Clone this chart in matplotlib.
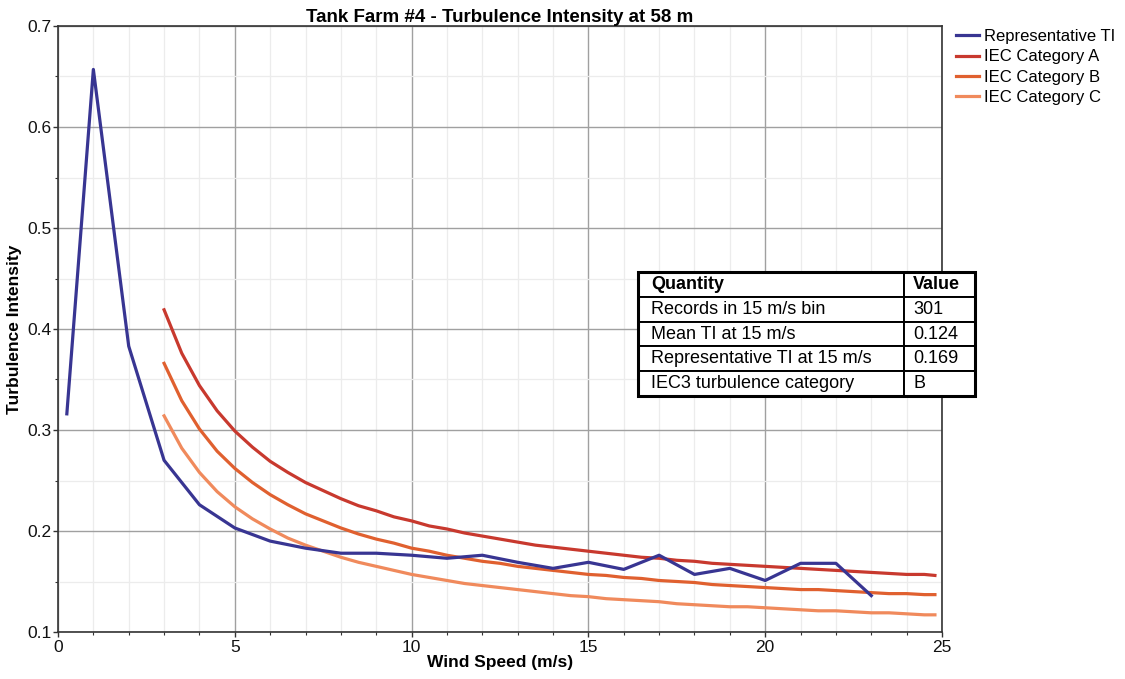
import matplotlib
matplotlib.use("Agg")
import matplotlib.pyplot as plt
from matplotlib.ticker import MultipleLocator
from matplotlib.patches import Rectangle

plt.rcParams['font.family'] = ['Liberation Sans', 'DejaVu Sans']

# ---- data ----
rep_ws = [0.25, 1, 2, 3, 4, 5, 6, 7, 8, 9, 10, 11, 12, 13, 14, 15, 16, 17, 18, 19, 20, 21, 22, 23]
rep_ti = [0.316, 0.657, 0.383, 0.270, 0.226, 0.203, 0.190, 0.183, 0.178, 0.178, 0.176, 0.173,
          0.176, 0.169, 0.163, 0.169, 0.162, 0.176, 0.157, 0.163, 0.151, 0.168, 0.168, 0.136]

iec_ws = [3.0, 3.5, 4.0, 4.5, 5.0, 5.5, 6.0, 6.5, 7.0, 7.5, 8.0, 8.5, 9.0, 9.5, 10.0, 10.5,
          11.0, 11.5, 12.0, 12.5, 13.0, 13.5, 14.0, 14.5, 15.0, 15.5, 16.0, 16.5, 17.0, 17.5,
          18.0, 18.5, 19.0, 19.5, 20.0, 20.5, 21.0, 21.5, 22.0, 22.5, 23.0, 23.5, 24.0, 24.5, 24.8]
iec_a = [0.419, 0.376, 0.344, 0.319, 0.299, 0.283, 0.269, 0.258, 0.248, 0.240, 0.232, 0.225,
         0.220, 0.214, 0.210, 0.205, 0.202, 0.198, 0.195, 0.192, 0.189, 0.186, 0.184, 0.182,
         0.180, 0.178, 0.176, 0.174, 0.173, 0.171, 0.170, 0.168, 0.167, 0.166, 0.165, 0.164,
         0.163, 0.162, 0.161, 0.160, 0.159, 0.158, 0.157, 0.157, 0.156]
iec_b = [0.366, 0.329, 0.301, 0.279, 0.262, 0.248, 0.236, 0.226, 0.217, 0.210, 0.203, 0.197,
         0.192, 0.188, 0.183, 0.180, 0.176, 0.173, 0.170, 0.168, 0.165, 0.163, 0.161, 0.159,
         0.157, 0.156, 0.154, 0.153, 0.151, 0.150, 0.149, 0.147, 0.146, 0.145, 0.144, 0.143,
         0.142, 0.142, 0.141, 0.140, 0.139, 0.138, 0.138, 0.137, 0.137]
iec_c = [0.314, 0.282, 0.258, 0.239, 0.224, 0.212, 0.202, 0.193, 0.186, 0.180, 0.174, 0.169,
         0.165, 0.161, 0.157, 0.154, 0.151, 0.148, 0.146, 0.144, 0.142, 0.140, 0.138, 0.136,
         0.135, 0.133, 0.132, 0.131, 0.130, 0.128, 0.127, 0.126, 0.125, 0.125, 0.124, 0.123,
         0.122, 0.121, 0.121, 0.120, 0.119, 0.119, 0.118, 0.117, 0.117]

series_labels = ["Representative TI", "IEC Category A", "IEC Category B", "IEC Category C"]
series_colors = ["#383592", "#c8392e", "#e0602f", "#f08a5c"]

table_header = ["Quantity", "Value"]
table_rows = [["Records in 15 m/s bin", "301"],
              ["Mean TI at 15 m/s", "0.124"],
              ["Representative TI at 15 m/s", "0.169"],
              ["IEC3 turbulence category", "B"]]

# ---- figure ----
fig = plt.figure(figsize=(11.25, 6.79), dpi=100)
ax = fig.add_axes([58/1125, 1-632/679, (942-58)/1125, (632-26)/679])

lw = 2.3
ax.plot(iec_ws, iec_c, color=series_colors[3], lw=lw, label=series_labels[3], zorder=3)
ax.plot(iec_ws, iec_b, color=series_colors[2], lw=lw, label=series_labels[2], zorder=3)
ax.plot(iec_ws, iec_a, color=series_colors[1], lw=lw, label=series_labels[1], zorder=3)
ax.plot(rep_ws, rep_ti, color=series_colors[0], lw=lw, label=series_labels[0], zorder=4)

ax.set_xlim(0, 25)
ax.set_ylim(0.1, 0.7)
ax.xaxis.set_major_locator(MultipleLocator(5))
ax.xaxis.set_minor_locator(MultipleLocator(1))
ax.yaxis.set_major_locator(MultipleLocator(0.1))
ax.yaxis.set_minor_locator(MultipleLocator(0.05))
ax.set_yticks(ax.get_yticks())
ax.set_yticklabels([f"{v:g}" for v in ax.get_yticks()])
ax.set_ylim(0.1, 0.7)
ax.grid(which='major', color='#a0a0a0', lw=1.0, zorder=0)
ax.grid(which='minor', color='#ececec', lw=0.9, zorder=0)
ax.set_axisbelow(True)
ax.tick_params(which='major', direction='out', length=3.6, width=1, labelsize=12.5, colors='#333333',
               labelcolor='#111111')
ax.tick_params(which='minor', direction='out', length=2.2, width=0.8, colors='#333333')
ax.tick_params(axis='y', which='major', pad=1)
ax.tick_params(axis='x', which='major', pad=2.5)
for sp in ax.spines.values():
    sp.set_color('#333333')
    sp.set_linewidth(1.2)

ax.set_title("Tank Farm #4 - Turbulence Intensity at 58 m", fontsize=13.5, fontweight='bold', pad=2)
ax.set_xlabel("Wind Speed (m/s)", fontsize=12.5, fontweight='bold', labelpad=0)
ax.set_ylabel("Turbulence Intensity", fontsize=12.5, fontweight='bold', labelpad=4)

handles, labels = ax.get_legend_handles_labels()
order = [3, 2, 1, 0]
fig.legend([handles[i] for i in order], [labels[i] for i in order],
           loc='upper left', bbox_to_anchor=(956/1125, 1-29/679), frameon=False,
           fontsize=12, handlelength=1.35, handletextpad=0.3, labelspacing=0.32,
           borderaxespad=0, borderpad=0)

# ---- table ----
tbl = ax.table(cellText=table_rows, colLabels=table_header, cellLoc='left',
               colLoc='left', colWidths=[0.789, 0.211],
               bbox=[(638-58)/884, (632-396)/606, (975-638)/884, (396-272)/606])
tbl.auto_set_font_size(False)
tbl.set_fontsize(13)
tbl.set_zorder(10)
for (r, c), cell in tbl.get_celld().items():
    cell.set_edgecolor('black')
    cell.set_linewidth(1.4)
    cell.set_facecolor('white')
    cell.PAD = 0.05 if c == 0 else 0.13
    cell.set_clip_on(False)
    cell.get_text().set_clip_on(False)
    if r == 0:
        cell.get_text().set_fontweight('bold')

# thicker outer border of the table
ax.add_patch(Rectangle(((638-58)/884, (632-396)/606), (975-638)/884, (396-272)/606,
                       transform=ax.transAxes, fill=False, edgecolor='black', lw=2.2,
                       zorder=11, clip_on=False))

fig.savefig("out.png", dpi=100)
